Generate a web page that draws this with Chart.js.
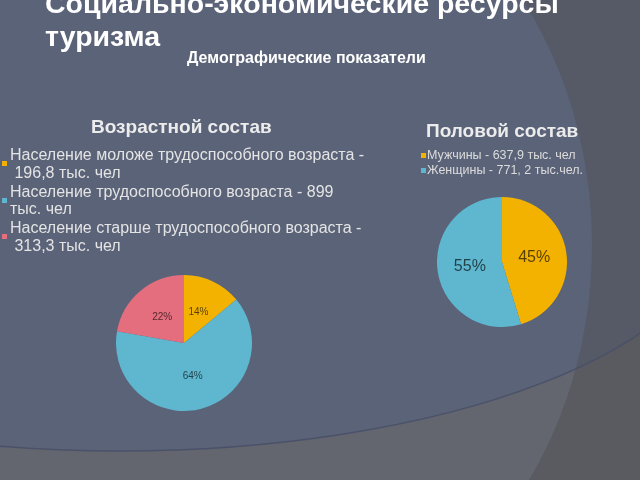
<!DOCTYPE html>
<html>
<head>
<meta charset="utf-8">
<script src="https://cdn.jsdelivr.net/npm/chart.js@4.4.0/dist/chart.umd.min.js"></script>
<style>
html, body { margin: 0; padding: 0; }
body {
  width: 640px; height: 480px; overflow: hidden; position: relative;
  background: #5b6378;
  font-family: "Liberation Sans", Arial, sans-serif;
}
.abs { position: absolute; white-space: pre; }
canvas { position: absolute; }
</style>
</head>
<body>
<canvas id="bg" width="640" height="480" style="left:0;top:0"></canvas>

<div class="abs" style="left:45px;top:-13px;font-size:28.5px;line-height:33px;font-weight:bold;color:#fff">Социально-экономические ресурсы
туризма</div>
<div class="abs" style="left:187px;top:48.5px;font-size:16px;line-height:18px;font-weight:bold;color:#fff">Демографические показатели</div>

<div class="abs" style="left:91px;top:115.5px;font-size:19px;line-height:22px;font-weight:bold;color:#ececec">Возрастной состав</div>
<div class="abs" style="left:426px;top:119.5px;font-size:19px;line-height:22px;font-weight:bold;color:#ececec">Половой состав</div>

<div id="ageLegend"></div>
<div id="sexLegend"></div>

<canvas id="agePie" width="136" height="136" style="left:116px;top:275px"></canvas>
<canvas id="sexPie" width="130" height="130" style="left:437px;top:197px"></canvas>

<script>
const ageLabels = [
  ["Население моложе трудоспособного возраста -", " 196,8 тыс. чел"],
  ["Население трудоспособного возраста - 899", "тыс. чел"],
  ["Население старше трудоспособного возраста -", " 313,3 тыс. чел"]
];
const ageValues = [196.8, 899, 313.3];
const ageColors = ["#f4b200", "#5eb7ce", "#e56e7e"];

const sexLabels = ["Мужчины - 637,9 тыс. чел", "Женщины - 771, 2 тыс.чел."];
const sexValues = [637.9, 771.2];
const sexColors = ["#f4b200", "#5eb7ce"];

// background shapes of the slide
(function () {
  const c = document.getElementById("bg").getContext("2d");
  function below() {
    c.beginPath();
    c.moveTo(720, 216);
    c.ellipse(120, 216, 600, 235, 0, 0, Math.PI);
    c.lineTo(-480, 500);
    c.lineTo(720, 500);
    c.closePath();
  }
  c.fillStyle = "#565a67";
  c.fillRect(0, 0, 640, 480);
  below();
  c.fillStyle = "#5a5b61";
  c.fill();

  c.save();
  c.beginPath();
  c.ellipse(250, 245, 342, 406, 0, 0, Math.PI * 2);
  c.fillStyle = "#5b6378";
  c.fill();
  c.clip();
  below();
  c.fillStyle = "#63656f";
  c.fill();
  c.restore();

  c.beginPath();
  c.ellipse(120, 216, 600, 235, 0, 0, Math.PI);
  c.strokeStyle = "rgba(72,80,104,0.9)";
  c.lineWidth = 1.5;
  c.stroke();
})();

// legends
const ageLegend = document.getElementById("ageLegend");
ageLabels.forEach(function (lines, i) {
  const top = 146 + i * 36.5;
  const sq = document.createElement("div");
  sq.className = "abs";
  sq.style.cssText = "left:2px;top:" + (top + 15) + "px;width:5px;height:5px;background:" + ageColors[i];
  ageLegend.appendChild(sq);
  const t = document.createElement("div");
  t.className = "abs";
  t.style.cssText = "left:10px;top:" + top + "px;font-size:16px;line-height:17.5px;color:#e4e4e4";
  t.textContent = lines.join("\n");
  ageLegend.appendChild(t);
});

const sexLegend = document.getElementById("sexLegend");
sexLabels.forEach(function (label, i) {
  const top = 148 + i * 15;
  const sq = document.createElement("div");
  sq.className = "abs";
  sq.style.cssText = "left:421px;top:" + (top + 5) + "px;width:5px;height:5px;background:" + sexColors[i];
  sexLegend.appendChild(sq);
  const t = document.createElement("div");
  t.className = "abs";
  t.style.cssText = "left:427px;top:" + top + "px;font-size:12.5px;line-height:15px;color:#dcdcdc";
  t.textContent = label;
  sexLegend.appendChild(t);
});

// percent labels inside slices
const percentLabels = {
  id: "percentLabels",
  afterDatasetsDraw(chart, args, opts) {
    const ctx = chart.ctx;
    const data = chart.data.datasets[0].data;
    const total = data.reduce((a, b) => a + b, 0);
    ctx.save();
    ctx.font = opts.size + "px 'Liberation Sans', Arial, sans-serif";
    ctx.fillStyle = opts.color;
    ctx.textAlign = "center";
    ctx.textBaseline = "middle";
    chart.getDatasetMeta(0).data.forEach(function (arc, i) {
      const p = arc.tooltipPosition();
      ctx.fillText(Math.round(data[i] / total * 100) + "%", p.x, p.y);
    });
    ctx.restore();
  }
};

function makePie(id, labels, values, colors, size) {
  return new Chart(document.getElementById(id), {
    type: "pie",
    data: {
      labels: labels,
      datasets: [{ data: values, backgroundColor: colors, borderWidth: 0 }]
    },
    options: {
      responsive: false,
      animation: false,
      layout: { padding: 0 },
      plugins: {
        legend: { display: false },
        tooltip: { enabled: false },
        percentLabels: { size: size, color: "rgba(0,0,0,0.65)" }
      }
    },
    plugins: [percentLabels]
  });
}

makePie("agePie", ageLabels.map(l => l.join(" ")), ageValues, ageColors, 10);
makePie("sexPie", sexLabels, sexValues, sexColors, 16);
</script>
</body>
</html>
